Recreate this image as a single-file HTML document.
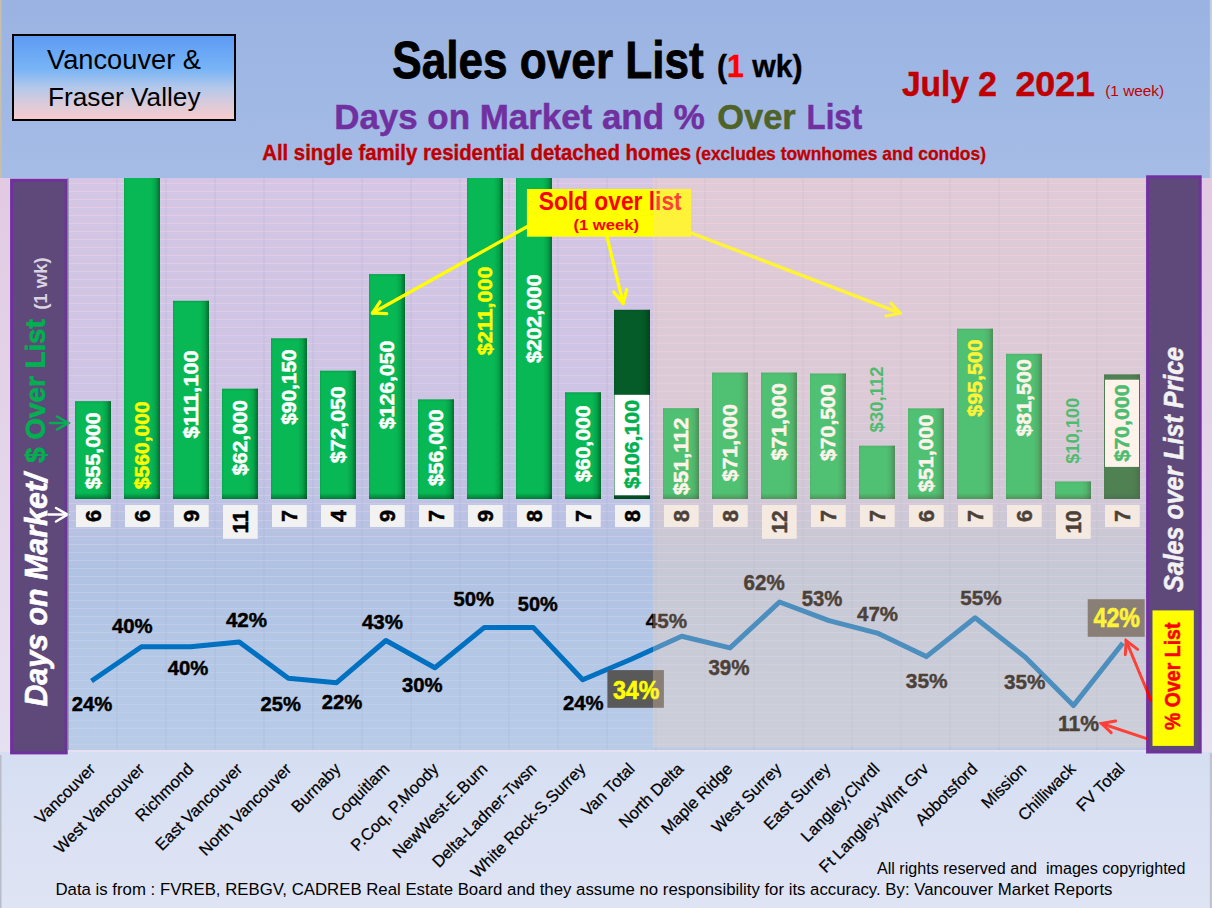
<!DOCTYPE html>
<html><head><meta charset="utf-8"><style>
html,body{margin:0;padding:0}
body{width:1212px;height:908px;position:relative;overflow:hidden;background:#d7e0f2;font-family:"Liberation Sans", sans-serif}
svg text{font-family:"Liberation Sans", sans-serif}
</style></head><body>
<svg width="1212" height="908" viewBox="0 0 1212 908" style="position:absolute;left:0;top:0">
<defs>
<linearGradient id="hdr" x1="0" y1="0" x2="0" y2="1">
 <stop offset="0" stop-color="#9ab3e2"/><stop offset="1" stop-color="#a5bce6"/>
</linearGradient>
<linearGradient id="plot" gradientUnits="userSpaceOnUse" x1="0" y1="178" x2="0" y2="750">
 <stop offset="0" stop-color="#d4c6e4"/><stop offset="0.39" stop-color="#cec4e4"/><stop offset="0.53" stop-color="#c2c2e4"/><stop offset="0.68" stop-color="#b0c2e2"/><stop offset="1" stop-color="#b8cce8"/>
</linearGradient>
<linearGradient id="side" x1="0" y1="0" x2="0" y2="1">
 <stop offset="0" stop-color="#e2cae2"/><stop offset="1" stop-color="#e6e0f0"/>
</linearGradient>
<linearGradient id="vfbox" x1="0" y1="0" x2="0" y2="1">
 <stop offset="0" stop-color="#5c9af4"/><stop offset="0.4" stop-color="#78b4f6"/><stop offset="0.62" stop-color="#b4c8ea"/><stop offset="0.82" stop-color="#dccbd9"/><stop offset="1" stop-color="#f8cccc"/>
</linearGradient>
<linearGradient id="barg" x1="0" y1="0" x2="1" y2="0">
 <stop offset="0" stop-color="#00b050"/><stop offset="0.7" stop-color="#00b050"/><stop offset="1" stop-color="#007a38"/>
</linearGradient>
<linearGradient id="barv" x1="0" y1="0" x2="0" y2="1">
 <stop offset="0" stop-color="#000" stop-opacity="0.12"/><stop offset="0.04" stop-color="#000" stop-opacity="0"/>
</linearGradient>
<pattern id="hlines" x="0" y="0" width="8" height="8" patternUnits="userSpaceOnUse">
 <rect x="0" y="4" width="8" height="1" fill="#f0b8d0" fill-opacity="0.35"/>
</pattern>
</defs>
<linearGradient id="bot" x1="0" y1="0" x2="0" y2="1"><stop offset="0" stop-color="#d5def2"/><stop offset="1" stop-color="#dfe4f4"/></linearGradient>
<rect x="0" y="740" width="1212" height="168" fill="url(#bot)"/>
<rect x="0" y="0" width="1212" height="178" fill="url(#hdr)"/>
<rect x="0" y="0" width="1.5" height="178" fill="#c8bfa8"/>
<rect x="1209.8" y="0" width="2.2" height="178" fill="#c4cce0"/>
<rect x="1209.8" y="753" width="2.2" height="155" fill="#c0c4d0"/>
<rect x="0" y="178" width="1212" height="574" fill="url(#side)"/>
<rect x="68" y="178" width="1078" height="572" fill="url(#plot)"/>


<rect x="68" y="183" width="1078" height="1" fill="rgb(238,204,230)" fill-opacity="0.72"/>
<rect x="68" y="191" width="1078" height="1" fill="rgb(237,204,230)" fill-opacity="0.71"/>
<rect x="68" y="199" width="1078" height="1" fill="rgb(237,204,230)" fill-opacity="0.71"/>
<rect x="68" y="207" width="1078" height="1" fill="rgb(236,205,231)" fill-opacity="0.70"/>
<rect x="68" y="215" width="1078" height="1" fill="rgb(236,205,231)" fill-opacity="0.69"/>
<rect x="68" y="223" width="1078" height="1" fill="rgb(235,205,231)" fill-opacity="0.69"/>
<rect x="68" y="231" width="1078" height="1" fill="rgb(234,205,231)" fill-opacity="0.68"/>
<rect x="68" y="239" width="1078" height="1" fill="rgb(234,205,231)" fill-opacity="0.68"/>
<rect x="68" y="247" width="1078" height="1" fill="rgb(233,205,231)" fill-opacity="0.67"/>
<rect x="68" y="255" width="1078" height="1" fill="rgb(233,206,231)" fill-opacity="0.67"/>
<rect x="68" y="263" width="1078" height="1" fill="rgb(232,206,231)" fill-opacity="0.66"/>
<rect x="68" y="271" width="1078" height="1" fill="rgb(232,206,232)" fill-opacity="0.65"/>
<rect x="68" y="279" width="1078" height="1" fill="rgb(231,206,232)" fill-opacity="0.65"/>
<rect x="68" y="287" width="1078" height="1" fill="rgb(231,206,232)" fill-opacity="0.64"/>
<rect x="68" y="295" width="1078" height="1" fill="rgb(230,206,232)" fill-opacity="0.64"/>
<rect x="68" y="303" width="1078" height="1" fill="rgb(230,207,232)" fill-opacity="0.63"/>
<rect x="68" y="311" width="1078" height="1" fill="rgb(229,207,232)" fill-opacity="0.63"/>
<rect x="68" y="319" width="1078" height="1" fill="rgb(229,207,232)" fill-opacity="0.62"/>
<rect x="68" y="327" width="1078" height="1" fill="rgb(228,207,233)" fill-opacity="0.62"/>
<rect x="68" y="335" width="1078" height="1" fill="rgb(228,207,233)" fill-opacity="0.61"/>
<rect x="68" y="343" width="1078" height="1" fill="rgb(227,207,233)" fill-opacity="0.60"/>
<rect x="68" y="351" width="1078" height="1" fill="rgb(226,208,233)" fill-opacity="0.60"/>
<rect x="68" y="359" width="1078" height="1" fill="rgb(226,208,233)" fill-opacity="0.59"/>
<rect x="68" y="367" width="1078" height="1" fill="rgb(225,208,233)" fill-opacity="0.59"/>
<rect x="68" y="375" width="1078" height="1" fill="rgb(225,208,233)" fill-opacity="0.58"/>
<rect x="68" y="383" width="1078" height="1" fill="rgb(224,208,234)" fill-opacity="0.58"/>
<rect x="68" y="391" width="1078" height="1" fill="rgb(224,208,234)" fill-opacity="0.57"/>
<rect x="68" y="399" width="1078" height="1" fill="rgb(223,209,234)" fill-opacity="0.56"/>
<rect x="68" y="407" width="1078" height="1" fill="rgb(223,209,234)" fill-opacity="0.56"/>
<rect x="68" y="415" width="1078" height="1" fill="rgb(222,209,234)" fill-opacity="0.55"/>
<rect x="68" y="423" width="1078" height="1" fill="rgb(222,209,234)" fill-opacity="0.55"/>
<rect x="68" y="431" width="1078" height="1" fill="rgb(221,209,234)" fill-opacity="0.54"/>
<rect x="68" y="439" width="1078" height="1" fill="rgb(221,209,235)" fill-opacity="0.54"/>
<rect x="68" y="447" width="1078" height="1" fill="rgb(220,210,235)" fill-opacity="0.53"/>
<rect x="68" y="455" width="1078" height="1" fill="rgb(220,210,235)" fill-opacity="0.53"/>
<rect x="68" y="463" width="1078" height="1" fill="rgb(219,210,235)" fill-opacity="0.52"/>
<rect x="68" y="471" width="1078" height="1" fill="rgb(218,210,235)" fill-opacity="0.51"/>
<rect x="68" y="479" width="1078" height="1" fill="rgb(218,210,235)" fill-opacity="0.51"/>
<rect x="68" y="487" width="1078" height="1" fill="rgb(217,211,235)" fill-opacity="0.50"/>
<rect x="68" y="495" width="1078" height="1" fill="rgb(217,211,236)" fill-opacity="0.50"/>
<rect x="68" y="503" width="1078" height="1" fill="rgb(216,211,236)" fill-opacity="0.49"/>
<rect x="68" y="511" width="1078" height="1" fill="rgb(216,211,236)" fill-opacity="0.49"/>
<rect x="68" y="520" width="1078" height="1" fill="rgb(215,211,236)" fill-opacity="0.48"/>
<rect x="68" y="528" width="1078" height="1" fill="rgb(215,211,236)" fill-opacity="0.48"/>
<rect x="68" y="536" width="1078" height="1" fill="rgb(214,212,236)" fill-opacity="0.47"/>
<rect x="68" y="544" width="1078" height="1" fill="rgb(214,212,236)" fill-opacity="0.46"/>
<rect x="68" y="552" width="1078" height="1" fill="rgb(213,212,237)" fill-opacity="0.46"/>
<rect x="68" y="560" width="1078" height="1" fill="rgb(213,212,237)" fill-opacity="0.45"/>
<rect x="68" y="568" width="1078" height="1" fill="rgb(212,212,237)" fill-opacity="0.45"/>
<rect x="68" y="576" width="1078" height="1" fill="rgb(212,212,237)" fill-opacity="0.44"/>
<rect x="68" y="584" width="1078" height="1" fill="rgb(211,213,237)" fill-opacity="0.44"/>
<rect x="68" y="592" width="1078" height="1" fill="rgb(210,213,237)" fill-opacity="0.43"/>
<rect x="68" y="600" width="1078" height="1" fill="rgb(210,213,237)" fill-opacity="0.42"/>
<rect x="68" y="608" width="1078" height="1" fill="rgb(209,213,238)" fill-opacity="0.42"/>
<rect x="68" y="616" width="1078" height="1" fill="rgb(209,213,238)" fill-opacity="0.41"/>
<rect x="68" y="624" width="1078" height="1" fill="rgb(208,213,238)" fill-opacity="0.41"/>
<rect x="68" y="632" width="1078" height="1" fill="rgb(208,214,238)" fill-opacity="0.40"/>
<rect x="68" y="640" width="1078" height="1" fill="rgb(207,214,238)" fill-opacity="0.40"/>
<rect x="68" y="648" width="1078" height="1" fill="rgb(207,214,238)" fill-opacity="0.39"/>
<rect x="68" y="656" width="1078" height="1" fill="rgb(206,214,238)" fill-opacity="0.39"/>
<rect x="68" y="664" width="1078" height="1" fill="rgb(206,214,239)" fill-opacity="0.38"/>
<rect x="68" y="672" width="1078" height="1" fill="rgb(205,214,239)" fill-opacity="0.37"/>
<rect x="68" y="680" width="1078" height="1" fill="rgb(205,215,239)" fill-opacity="0.37"/>
<rect x="68" y="688" width="1078" height="1" fill="rgb(204,215,239)" fill-opacity="0.36"/>
<rect x="68" y="696" width="1078" height="1" fill="rgb(204,215,239)" fill-opacity="0.36"/>
<rect x="68" y="704" width="1078" height="1" fill="rgb(203,215,239)" fill-opacity="0.35"/>
<rect x="68" y="712" width="1078" height="1" fill="rgb(202,215,239)" fill-opacity="0.35"/>
<rect x="68" y="720" width="1078" height="1" fill="rgb(202,215,239)" fill-opacity="0.34"/>
<rect x="68" y="728" width="1078" height="1" fill="rgb(201,216,240)" fill-opacity="0.34"/>
<rect x="68" y="736" width="1078" height="1" fill="rgb(201,216,240)" fill-opacity="0.33"/>
<rect x="68" y="744" width="1078" height="1" fill="rgb(200,216,240)" fill-opacity="0.32"/>
<rect x="67.5" y="178" width="1" height="572" fill="#a0a8d0" fill-opacity="0.3"/>
<rect x="116.5" y="178" width="1" height="572" fill="#a0a8d0" fill-opacity="0.3"/>
<rect x="165.5" y="178" width="1" height="572" fill="#a0a8d0" fill-opacity="0.3"/>
<rect x="214.5" y="178" width="1" height="572" fill="#a0a8d0" fill-opacity="0.3"/>
<rect x="263.5" y="178" width="1" height="572" fill="#a0a8d0" fill-opacity="0.3"/>
<rect x="312.5" y="178" width="1" height="572" fill="#a0a8d0" fill-opacity="0.3"/>
<rect x="361.5" y="178" width="1" height="572" fill="#a0a8d0" fill-opacity="0.3"/>
<rect x="410.5" y="178" width="1" height="572" fill="#a0a8d0" fill-opacity="0.3"/>
<rect x="459.5" y="178" width="1" height="572" fill="#a0a8d0" fill-opacity="0.3"/>
<rect x="508.5" y="178" width="1" height="572" fill="#a0a8d0" fill-opacity="0.3"/>
<rect x="557.5" y="178" width="1" height="572" fill="#a0a8d0" fill-opacity="0.3"/>
<rect x="606.5" y="178" width="1" height="572" fill="#a0a8d0" fill-opacity="0.3"/>
<rect x="655.5" y="178" width="1" height="572" fill="#a0a8d0" fill-opacity="0.3"/>
<rect x="704.5" y="178" width="1" height="572" fill="#a0a8d0" fill-opacity="0.3"/>
<rect x="753.5" y="178" width="1" height="572" fill="#a0a8d0" fill-opacity="0.3"/>
<rect x="802.5" y="178" width="1" height="572" fill="#a0a8d0" fill-opacity="0.3"/>
<rect x="851.5" y="178" width="1" height="572" fill="#a0a8d0" fill-opacity="0.3"/>
<rect x="900.5" y="178" width="1" height="572" fill="#a0a8d0" fill-opacity="0.3"/>
<rect x="949.5" y="178" width="1" height="572" fill="#a0a8d0" fill-opacity="0.3"/>
<rect x="998.5" y="178" width="1" height="572" fill="#a0a8d0" fill-opacity="0.3"/>
<rect x="1047.5" y="178" width="1" height="572" fill="#a0a8d0" fill-opacity="0.3"/>
<rect x="1096.5" y="178" width="1" height="572" fill="#a0a8d0" fill-opacity="0.3"/>
<rect x="1145.5" y="178" width="1" height="572" fill="#a0a8d0" fill-opacity="0.3"/>
<rect x="0" y="755" width="1.5" height="153" fill="#b8bcc8"/>
<rect x="13" y="35" width="222" height="85" fill="url(#vfbox)" stroke="#000" stroke-width="2"/>
<text x="47.0" y="68.9" font-size="27.62" fill="#000" font-weight="normal" text-anchor="start" textLength="154.0" lengthAdjust="spacingAndGlyphs"  style="">Vancouver &amp;</text>
<text x="48.0" y="105.6" font-size="26.16" fill="#000" font-weight="normal" text-anchor="start" textLength="152.5" lengthAdjust="spacingAndGlyphs"  style="">Fraser Valley</text>
<text x="392.3" y="77.5" font-size="51.16" fill="#000" font-weight="bold" text-anchor="start" textLength="311.5" lengthAdjust="spacingAndGlyphs" stroke="#000" stroke-width="0.8" style="">Sales over List</text>
<text x="717" y="77.2" font-size="31" font-weight="bold" textLength="85.5" lengthAdjust="spacingAndGlyphs" fill="#000" stroke="#000" stroke-width="0.4">(<tspan fill="#ff0000" stroke="#ff0000">1</tspan> wk)</text>
<text x="334.2" y="128.6" font-size="35.90" fill="#7030a0" font-weight="bold" text-anchor="start" textLength="370.5" lengthAdjust="spacingAndGlyphs" stroke="#7030a0" stroke-width="0.5" style="">Days on Market and %</text>
<text x="717.2" y="128.6" font-size="35.90" fill="#4f6228" font-weight="bold" text-anchor="start" textLength="78.5" lengthAdjust="spacingAndGlyphs" stroke="#4f6228" stroke-width="0.5" style="">Over</text>
<text x="806.6" y="128.6" font-size="35.90" fill="#7030a0" font-weight="bold" text-anchor="start" textLength="55.5" lengthAdjust="spacingAndGlyphs" stroke="#7030a0" stroke-width="0.5" style="">List</text>
<text x="262.2" y="160.0" font-size="22.53" fill="#c00000" font-weight="bold" text-anchor="start" textLength="429.0" lengthAdjust="spacingAndGlyphs" stroke="#c00000" stroke-width="0.4" style="">All single family residential detached homes</text>
<text x="695.4" y="159.6" font-size="18.50" fill="#c00000" font-weight="bold" text-anchor="start" textLength="290.6" lengthAdjust="spacingAndGlyphs" stroke="#c00000" stroke-width="0.3" style="">(excludes townhomes and condos)</text>
<text x="901.9" y="96.3" font-size="34.30" fill="#c00000" font-weight="bold" text-anchor="start" textLength="95.0" lengthAdjust="spacingAndGlyphs" stroke="#c00000" stroke-width="0.5" style="">July 2</text>
<text x="1015.5" y="96.3" font-size="34.30" fill="#c00000" font-weight="bold" text-anchor="start" textLength="79.5" lengthAdjust="spacingAndGlyphs" stroke="#c00000" stroke-width="0.5" style="">2021</text>
<text x="1105.2" y="96.0" font-size="15.00" fill="#c00000" font-weight="normal" text-anchor="start" textLength="59.0" lengthAdjust="spacingAndGlyphs"  style="">(1 week)</text>
<rect x="11.6" y="180.2" width="54.6" height="572.7" fill="#5f497a" stroke="#7030a0" stroke-width="3"/>
<rect x="1147.6" y="176.8" width="52.6" height="575.2" fill="#5f497a" stroke="#7030a0" stroke-width="3"/>
<linearGradient id="shR" x1="0" y1="0" x2="1" y2="0"><stop offset="0" stop-color="#003010" stop-opacity="0"/><stop offset="0.5" stop-color="#003010" stop-opacity="0.15"/><stop offset="1" stop-color="#003010" stop-opacity="0.55"/></linearGradient>
<linearGradient id="shB" x1="0" y1="0" x2="0" y2="1"><stop offset="0" stop-color="#003010" stop-opacity="0"/><stop offset="1" stop-color="#003010" stop-opacity="0.45"/></linearGradient>
<linearGradient id="shT" x1="0" y1="0" x2="0" y2="1"><stop offset="0" stop-color="#003010" stop-opacity="0.15"/><stop offset="1" stop-color="#003010" stop-opacity="0"/></linearGradient>
<rect x="75.0" y="401.2" width="36.0" height="97.8" fill="#07b854"/>
<rect x="102.0" y="401.2" width="9" height="97.8" fill="url(#shR)"/>
<rect x="75.0" y="493.0" width="36.0" height="6" fill="url(#shB)"/>
<rect x="75.0" y="401.2" width="36.0" height="2.5" fill="url(#shT)"/>
<rect x="75.0" y="401.2" width="1.2" height="97.8" fill="#003010" fill-opacity="0.08"/>
<rect x="124.0" y="178.0" width="36.0" height="321.0" fill="#07b854"/>
<rect x="151.0" y="178.0" width="9" height="321.0" fill="url(#shR)"/>
<rect x="124.0" y="493.0" width="36.0" height="6" fill="url(#shB)"/>
<rect x="124.0" y="178.0" width="1.2" height="321.0" fill="#003010" fill-opacity="0.08"/>
<rect x="173.0" y="300.8" width="36.0" height="198.2" fill="#07b854"/>
<rect x="200.0" y="300.8" width="9" height="198.2" fill="url(#shR)"/>
<rect x="173.0" y="493.0" width="36.0" height="6" fill="url(#shB)"/>
<rect x="173.0" y="300.8" width="36.0" height="2.5" fill="url(#shT)"/>
<rect x="173.0" y="300.8" width="1.2" height="198.2" fill="#003010" fill-opacity="0.08"/>
<rect x="222.0" y="388.7" width="36.0" height="110.3" fill="#07b854"/>
<rect x="249.0" y="388.7" width="9" height="110.3" fill="url(#shR)"/>
<rect x="222.0" y="493.0" width="36.0" height="6" fill="url(#shB)"/>
<rect x="222.0" y="388.7" width="36.0" height="2.5" fill="url(#shT)"/>
<rect x="222.0" y="388.7" width="1.2" height="110.3" fill="#003010" fill-opacity="0.08"/>
<rect x="271.0" y="338.3" width="36.0" height="160.7" fill="#07b854"/>
<rect x="298.0" y="338.3" width="9" height="160.7" fill="url(#shR)"/>
<rect x="271.0" y="493.0" width="36.0" height="6" fill="url(#shB)"/>
<rect x="271.0" y="338.3" width="36.0" height="2.5" fill="url(#shT)"/>
<rect x="271.0" y="338.3" width="1.2" height="160.7" fill="#003010" fill-opacity="0.08"/>
<rect x="320.0" y="370.7" width="36.0" height="128.3" fill="#07b854"/>
<rect x="347.0" y="370.7" width="9" height="128.3" fill="url(#shR)"/>
<rect x="320.0" y="493.0" width="36.0" height="6" fill="url(#shB)"/>
<rect x="320.0" y="370.7" width="36.0" height="2.5" fill="url(#shT)"/>
<rect x="320.0" y="370.7" width="1.2" height="128.3" fill="#003010" fill-opacity="0.08"/>
<rect x="369.0" y="274.1" width="36.0" height="224.9" fill="#07b854"/>
<rect x="396.0" y="274.1" width="9" height="224.9" fill="url(#shR)"/>
<rect x="369.0" y="493.0" width="36.0" height="6" fill="url(#shB)"/>
<rect x="369.0" y="274.1" width="36.0" height="2.5" fill="url(#shT)"/>
<rect x="369.0" y="274.1" width="1.2" height="224.9" fill="#003010" fill-opacity="0.08"/>
<rect x="418.0" y="399.4" width="36.0" height="99.6" fill="#07b854"/>
<rect x="445.0" y="399.4" width="9" height="99.6" fill="url(#shR)"/>
<rect x="418.0" y="493.0" width="36.0" height="6" fill="url(#shB)"/>
<rect x="418.0" y="399.4" width="36.0" height="2.5" fill="url(#shT)"/>
<rect x="418.0" y="399.4" width="1.2" height="99.6" fill="#003010" fill-opacity="0.08"/>
<rect x="467.0" y="178.0" width="36.0" height="321.0" fill="#07b854"/>
<rect x="494.0" y="178.0" width="9" height="321.0" fill="url(#shR)"/>
<rect x="467.0" y="493.0" width="36.0" height="6" fill="url(#shB)"/>
<rect x="467.0" y="178.0" width="1.2" height="321.0" fill="#003010" fill-opacity="0.08"/>
<rect x="516.0" y="178.0" width="36.0" height="321.0" fill="#07b854"/>
<rect x="543.0" y="178.0" width="9" height="321.0" fill="url(#shR)"/>
<rect x="516.0" y="493.0" width="36.0" height="6" fill="url(#shB)"/>
<rect x="516.0" y="178.0" width="1.2" height="321.0" fill="#003010" fill-opacity="0.08"/>
<rect x="565.0" y="392.3" width="36.0" height="106.7" fill="#07b854"/>
<rect x="592.0" y="392.3" width="9" height="106.7" fill="url(#shR)"/>
<rect x="565.0" y="493.0" width="36.0" height="6" fill="url(#shB)"/>
<rect x="565.0" y="392.3" width="36.0" height="2.5" fill="url(#shT)"/>
<rect x="565.0" y="392.3" width="1.2" height="106.7" fill="#003010" fill-opacity="0.08"/>
<rect x="614.0" y="309.8" width="36.0" height="189.2" fill="#055c28"/>
<rect x="641.0" y="309.8" width="9" height="189.2" fill="url(#shR)"/>
<rect x="614.0" y="493.0" width="36.0" height="6" fill="url(#shB)"/>
<rect x="614.0" y="309.8" width="36.0" height="2.5" fill="url(#shT)"/>
<rect x="614.0" y="309.8" width="1.2" height="189.2" fill="#003010" fill-opacity="0.08"/>
<rect x="663.0" y="408.2" width="36.0" height="90.8" fill="#07b854"/>
<rect x="690.0" y="408.2" width="9" height="90.8" fill="url(#shR)"/>
<rect x="663.0" y="493.0" width="36.0" height="6" fill="url(#shB)"/>
<rect x="663.0" y="408.2" width="36.0" height="2.5" fill="url(#shT)"/>
<rect x="663.0" y="408.2" width="1.2" height="90.8" fill="#003010" fill-opacity="0.08"/>
<rect x="712.0" y="372.6" width="36.0" height="126.4" fill="#07b854"/>
<rect x="739.0" y="372.6" width="9" height="126.4" fill="url(#shR)"/>
<rect x="712.0" y="493.0" width="36.0" height="6" fill="url(#shB)"/>
<rect x="712.0" y="372.6" width="36.0" height="2.5" fill="url(#shT)"/>
<rect x="712.0" y="372.6" width="1.2" height="126.4" fill="#003010" fill-opacity="0.08"/>
<rect x="761.0" y="372.6" width="36.0" height="126.4" fill="#07b854"/>
<rect x="788.0" y="372.6" width="9" height="126.4" fill="url(#shR)"/>
<rect x="761.0" y="493.0" width="36.0" height="6" fill="url(#shB)"/>
<rect x="761.0" y="372.6" width="36.0" height="2.5" fill="url(#shT)"/>
<rect x="761.0" y="372.6" width="1.2" height="126.4" fill="#003010" fill-opacity="0.08"/>
<rect x="810.0" y="373.5" width="36.0" height="125.5" fill="#07b854"/>
<rect x="837.0" y="373.5" width="9" height="125.5" fill="url(#shR)"/>
<rect x="810.0" y="493.0" width="36.0" height="6" fill="url(#shB)"/>
<rect x="810.0" y="373.5" width="36.0" height="2.5" fill="url(#shT)"/>
<rect x="810.0" y="373.5" width="1.2" height="125.5" fill="#003010" fill-opacity="0.08"/>
<rect x="859.0" y="445.7" width="36.0" height="53.3" fill="#07b854"/>
<rect x="886.0" y="445.7" width="9" height="53.3" fill="url(#shR)"/>
<rect x="859.0" y="493.0" width="36.0" height="6" fill="url(#shB)"/>
<rect x="859.0" y="445.7" width="36.0" height="2.5" fill="url(#shT)"/>
<rect x="859.0" y="445.7" width="1.2" height="53.3" fill="#003010" fill-opacity="0.08"/>
<rect x="908.0" y="408.4" width="36.0" height="90.6" fill="#07b854"/>
<rect x="935.0" y="408.4" width="9" height="90.6" fill="url(#shR)"/>
<rect x="908.0" y="493.0" width="36.0" height="6" fill="url(#shB)"/>
<rect x="908.0" y="408.4" width="36.0" height="2.5" fill="url(#shT)"/>
<rect x="908.0" y="408.4" width="1.2" height="90.6" fill="#003010" fill-opacity="0.08"/>
<rect x="957.0" y="328.7" width="36.0" height="170.3" fill="#07b854"/>
<rect x="984.0" y="328.7" width="9" height="170.3" fill="url(#shR)"/>
<rect x="957.0" y="493.0" width="36.0" height="6" fill="url(#shB)"/>
<rect x="957.0" y="328.7" width="36.0" height="2.5" fill="url(#shT)"/>
<rect x="957.0" y="328.7" width="1.2" height="170.3" fill="#003010" fill-opacity="0.08"/>
<rect x="1006.0" y="353.8" width="36.0" height="145.2" fill="#07b854"/>
<rect x="1033.0" y="353.8" width="9" height="145.2" fill="url(#shR)"/>
<rect x="1006.0" y="493.0" width="36.0" height="6" fill="url(#shB)"/>
<rect x="1006.0" y="353.8" width="36.0" height="2.5" fill="url(#shT)"/>
<rect x="1006.0" y="353.8" width="1.2" height="145.2" fill="#003010" fill-opacity="0.08"/>
<rect x="1055.0" y="481.5" width="36.0" height="17.5" fill="#07b854"/>
<rect x="1082.0" y="481.5" width="9" height="17.5" fill="url(#shR)"/>
<rect x="1055.0" y="493.0" width="36.0" height="6" fill="url(#shB)"/>
<rect x="1055.0" y="481.5" width="36.0" height="2.5" fill="url(#shT)"/>
<rect x="1055.0" y="481.5" width="1.2" height="17.5" fill="#003010" fill-opacity="0.08"/>
<rect x="1104.0" y="374.4" width="36.0" height="124.6" fill="#055c28"/>
<rect x="1131.0" y="374.4" width="9" height="124.6" fill="url(#shR)"/>
<rect x="1104.0" y="493.0" width="36.0" height="6" fill="url(#shB)"/>
<rect x="1104.0" y="374.4" width="36.0" height="2.5" fill="url(#shT)"/>
<rect x="1104.0" y="374.4" width="1.2" height="124.6" fill="#003010" fill-opacity="0.08"/>
<text transform="translate(100.2,489.2) rotate(-90)" x="0" y="0" font-size="21" font-weight="bold" fill="#ffffff" stroke="#ffffff" stroke-width="0.5" textLength="76.8" lengthAdjust="spacingAndGlyphs">$55,000</text>
<text transform="translate(149.2,489.2) rotate(-90)" x="0" y="0" font-size="21" font-weight="bold" fill="#ffff00" stroke="#ffff00" stroke-width="0.5" textLength="87.9" lengthAdjust="spacingAndGlyphs">$560,000</text>
<text transform="translate(198.2,438.4) rotate(-90)" x="0" y="0" font-size="21" font-weight="bold" fill="#ffffff" stroke="#ffffff" stroke-width="0.5" textLength="87.9" lengthAdjust="spacingAndGlyphs">$111,100</text>
<text transform="translate(247.2,475.5) rotate(-90)" x="0" y="0" font-size="21" font-weight="bold" fill="#ffffff" stroke="#ffffff" stroke-width="0.5" textLength="75.5" lengthAdjust="spacingAndGlyphs">$62,000</text>
<text transform="translate(296.2,424.8) rotate(-90)" x="0" y="0" font-size="21" font-weight="bold" fill="#ffffff" stroke="#ffffff" stroke-width="0.5" textLength="75.5" lengthAdjust="spacingAndGlyphs">$90,150</text>
<text transform="translate(345.2,463.2) rotate(-90)" x="0" y="0" font-size="21" font-weight="bold" fill="#ffffff" stroke="#ffffff" stroke-width="0.5" textLength="76.8" lengthAdjust="spacingAndGlyphs">$72,050</text>
<text transform="translate(394.2,429.2) rotate(-90)" x="0" y="0" font-size="21" font-weight="bold" fill="#ffffff" stroke="#ffffff" stroke-width="0.5" textLength="88.6" lengthAdjust="spacingAndGlyphs">$126,050</text>
<text transform="translate(443.2,486.0) rotate(-90)" x="0" y="0" font-size="21" font-weight="bold" fill="#ffffff" stroke="#ffffff" stroke-width="0.5" textLength="76.6" lengthAdjust="spacingAndGlyphs">$56,000</text>
<text transform="translate(492.2,355.2) rotate(-90)" x="0" y="0" font-size="21" font-weight="bold" fill="#ffff00" stroke="#ffff00" stroke-width="0.5" textLength="88.6" lengthAdjust="spacingAndGlyphs">$211,000</text>
<text transform="translate(541.2,363.1) rotate(-90)" x="0" y="0" font-size="21" font-weight="bold" fill="#ffffff" stroke="#ffffff" stroke-width="0.5" textLength="88.6" lengthAdjust="spacingAndGlyphs">$202,000</text>
<text transform="translate(590.2,482.0) rotate(-90)" x="0" y="0" font-size="21" font-weight="bold" fill="#ffffff" stroke="#ffffff" stroke-width="0.5" textLength="76.6" lengthAdjust="spacingAndGlyphs">$60,000</text>
<rect x="614.5" y="394.8" width="35" height="100.5" fill="#ffffff"/>
<text transform="translate(639.2,488.7) rotate(-90)" x="0" y="0" font-size="21" font-weight="bold" fill="#00b050" stroke="#00b050" stroke-width="0.5" textLength="88.7" lengthAdjust="spacingAndGlyphs">$106,100</text>
<text transform="translate(688.2,495.1) rotate(-90)" x="0" y="0" font-size="21" font-weight="bold" fill="#ffffff" stroke="#ffffff" stroke-width="0.5" textLength="77.4" lengthAdjust="spacingAndGlyphs">$51,112</text>
<text transform="translate(737.2,481.5) rotate(-90)" x="0" y="0" font-size="21" font-weight="bold" fill="#ffffff" stroke="#ffffff" stroke-width="0.5" textLength="77.4" lengthAdjust="spacingAndGlyphs">$71,000</text>
<text transform="translate(786.2,460.6) rotate(-90)" x="0" y="0" font-size="21" font-weight="bold" fill="#ffffff" stroke="#ffffff" stroke-width="0.5" textLength="77.4" lengthAdjust="spacingAndGlyphs">$71,000</text>
<text transform="translate(835.2,461.0) rotate(-90)" x="0" y="0" font-size="21" font-weight="bold" fill="#ffffff" stroke="#ffffff" stroke-width="0.5" textLength="76.7" lengthAdjust="spacingAndGlyphs">$70,500</text>
<text transform="translate(883.2,432.4) rotate(-90)" x="0" y="0" font-size="18" font-weight="bold" fill="#00b050" stroke="#00b050" stroke-width="0" textLength="65.9" lengthAdjust="spacingAndGlyphs">$30,112</text>
<text transform="translate(933.2,492.0) rotate(-90)" x="0" y="0" font-size="21" font-weight="bold" fill="#ffffff" stroke="#ffffff" stroke-width="0.5" textLength="77.4" lengthAdjust="spacingAndGlyphs">$51,000</text>
<text transform="translate(982.2,416.7) rotate(-90)" x="0" y="0" font-size="21" font-weight="bold" fill="#ffff00" stroke="#ffff00" stroke-width="0.5" textLength="77.4" lengthAdjust="spacingAndGlyphs">$95,500</text>
<text transform="translate(1031.2,436.6) rotate(-90)" x="0" y="0" font-size="21" font-weight="bold" fill="#ffffff" stroke="#ffffff" stroke-width="0.5" textLength="77.4" lengthAdjust="spacingAndGlyphs">$81,500</text>
<text transform="translate(1079.2,463.8) rotate(-90)" x="0" y="0" font-size="18" font-weight="bold" fill="#00b050" stroke="#00b050" stroke-width="0" textLength="65.9" lengthAdjust="spacingAndGlyphs">$10,100</text>
<rect x="1105" y="379.7" width="34" height="87.2" fill="#ffffff"/>
<text transform="translate(1129.2,461.7) rotate(-90)" x="0" y="0" font-size="21" font-weight="bold" fill="#00b050" stroke="#00b050" stroke-width="0.5" textLength="77.4" lengthAdjust="spacingAndGlyphs">$70,000</text>
<rect x="76.0" y="504.9" width="34.7" height="22.2" fill="#f2f2f2"/>
<text transform="translate(101.1,522.0) rotate(-90)" font-size="22.5" font-weight="bold" fill="#000" stroke="#000" stroke-width="0.5" textLength="12" lengthAdjust="spacingAndGlyphs">6</text>
<rect x="125.0" y="504.9" width="34.7" height="22.2" fill="#f2f2f2"/>
<text transform="translate(150.1,522.0) rotate(-90)" font-size="22.5" font-weight="bold" fill="#000" stroke="#000" stroke-width="0.5" textLength="12" lengthAdjust="spacingAndGlyphs">6</text>
<rect x="174.0" y="504.9" width="34.7" height="22.2" fill="#f2f2f2"/>
<text transform="translate(199.1,522.0) rotate(-90)" font-size="22.5" font-weight="bold" fill="#000" stroke="#000" stroke-width="0.5" textLength="12" lengthAdjust="spacingAndGlyphs">9</text>
<rect x="223.0" y="504.9" width="34.7" height="33.9" fill="#f2f2f2"/>
<text transform="translate(248.1,533.4) rotate(-90)" font-size="22.5" font-weight="bold" fill="#000" stroke="#000" stroke-width="0.5" textLength="23" lengthAdjust="spacingAndGlyphs">11</text>
<rect x="272.0" y="504.9" width="34.7" height="22.2" fill="#f2f2f2"/>
<text transform="translate(297.1,522.0) rotate(-90)" font-size="22.5" font-weight="bold" fill="#000" stroke="#000" stroke-width="0.5" textLength="12" lengthAdjust="spacingAndGlyphs">7</text>
<rect x="321.0" y="504.9" width="34.7" height="22.2" fill="#f2f2f2"/>
<text transform="translate(346.1,522.0) rotate(-90)" font-size="22.5" font-weight="bold" fill="#000" stroke="#000" stroke-width="0.5" textLength="12" lengthAdjust="spacingAndGlyphs">4</text>
<rect x="370.0" y="504.9" width="34.7" height="22.2" fill="#f2f2f2"/>
<text transform="translate(395.1,522.0) rotate(-90)" font-size="22.5" font-weight="bold" fill="#000" stroke="#000" stroke-width="0.5" textLength="12" lengthAdjust="spacingAndGlyphs">9</text>
<rect x="419.0" y="504.9" width="34.7" height="22.2" fill="#f2f2f2"/>
<text transform="translate(444.1,522.0) rotate(-90)" font-size="22.5" font-weight="bold" fill="#000" stroke="#000" stroke-width="0.5" textLength="12" lengthAdjust="spacingAndGlyphs">7</text>
<rect x="468.0" y="504.9" width="34.7" height="22.2" fill="#f2f2f2"/>
<text transform="translate(493.1,522.0) rotate(-90)" font-size="22.5" font-weight="bold" fill="#000" stroke="#000" stroke-width="0.5" textLength="12" lengthAdjust="spacingAndGlyphs">9</text>
<rect x="517.0" y="504.9" width="34.7" height="22.2" fill="#f2f2f2"/>
<text transform="translate(542.1,522.0) rotate(-90)" font-size="22.5" font-weight="bold" fill="#000" stroke="#000" stroke-width="0.5" textLength="12" lengthAdjust="spacingAndGlyphs">8</text>
<rect x="566.0" y="504.9" width="34.7" height="22.2" fill="#f2f2f2"/>
<text transform="translate(591.1,522.0) rotate(-90)" font-size="22.5" font-weight="bold" fill="#000" stroke="#000" stroke-width="0.5" textLength="12" lengthAdjust="spacingAndGlyphs">7</text>
<rect x="615.0" y="504.9" width="34.7" height="22.2" fill="#f2f2f2"/>
<text transform="translate(640.1,522.0) rotate(-90)" font-size="22.5" font-weight="bold" fill="#000" stroke="#000" stroke-width="0.5" textLength="12" lengthAdjust="spacingAndGlyphs">8</text>
<rect x="664.0" y="504.9" width="34.7" height="22.2" fill="#f2f2f2"/>
<text transform="translate(689.1,522.0) rotate(-90)" font-size="22.5" font-weight="bold" fill="#000" stroke="#000" stroke-width="0.5" textLength="12" lengthAdjust="spacingAndGlyphs">8</text>
<rect x="713.0" y="504.9" width="34.7" height="22.2" fill="#f2f2f2"/>
<text transform="translate(738.1,522.0) rotate(-90)" font-size="22.5" font-weight="bold" fill="#000" stroke="#000" stroke-width="0.5" textLength="12" lengthAdjust="spacingAndGlyphs">8</text>
<rect x="762.0" y="504.9" width="34.7" height="33.9" fill="#f2f2f2"/>
<text transform="translate(787.1,533.4) rotate(-90)" font-size="22.5" font-weight="bold" fill="#000" stroke="#000" stroke-width="0.5" textLength="23" lengthAdjust="spacingAndGlyphs">12</text>
<rect x="811.0" y="504.9" width="34.7" height="22.2" fill="#f2f2f2"/>
<text transform="translate(836.1,522.0) rotate(-90)" font-size="22.5" font-weight="bold" fill="#000" stroke="#000" stroke-width="0.5" textLength="12" lengthAdjust="spacingAndGlyphs">7</text>
<rect x="860.0" y="504.9" width="34.7" height="22.2" fill="#f2f2f2"/>
<text transform="translate(885.1,522.0) rotate(-90)" font-size="22.5" font-weight="bold" fill="#000" stroke="#000" stroke-width="0.5" textLength="12" lengthAdjust="spacingAndGlyphs">7</text>
<rect x="909.0" y="504.9" width="34.7" height="22.2" fill="#f2f2f2"/>
<text transform="translate(934.1,522.0) rotate(-90)" font-size="22.5" font-weight="bold" fill="#000" stroke="#000" stroke-width="0.5" textLength="12" lengthAdjust="spacingAndGlyphs">6</text>
<rect x="958.0" y="504.9" width="34.7" height="22.2" fill="#f2f2f2"/>
<text transform="translate(983.1,522.0) rotate(-90)" font-size="22.5" font-weight="bold" fill="#000" stroke="#000" stroke-width="0.5" textLength="12" lengthAdjust="spacingAndGlyphs">7</text>
<rect x="1007.0" y="504.9" width="34.7" height="22.2" fill="#f2f2f2"/>
<text transform="translate(1032.1,522.0) rotate(-90)" font-size="22.5" font-weight="bold" fill="#000" stroke="#000" stroke-width="0.5" textLength="12" lengthAdjust="spacingAndGlyphs">6</text>
<rect x="1056.0" y="504.9" width="34.7" height="33.9" fill="#f2f2f2"/>
<text transform="translate(1081.1,533.4) rotate(-90)" font-size="22.5" font-weight="bold" fill="#000" stroke="#000" stroke-width="0.5" textLength="23" lengthAdjust="spacingAndGlyphs">10</text>
<rect x="1105.0" y="504.9" width="34.7" height="22.2" fill="#f2f2f2"/>
<text transform="translate(1130.1,522.0) rotate(-90)" font-size="22.5" font-weight="bold" fill="#000" stroke="#000" stroke-width="0.5" textLength="12" lengthAdjust="spacingAndGlyphs">7</text>
<path d="M91.5,681.0 L141.5,646.8 L190.5,646.8 L239.3,641.9 L288.3,678.3 L336.6,682.7 L385.9,640.5 L434.9,667.8 L484.4,627.4 L533.2,627.4 L582.7,679.7 L631.7,659.0 L681.7,636.2 L730.0,647.9 L779.5,602.0 L829.0,620.6 L877.3,633.1 L926.3,656.6 L975.1,617.8 L1024.6,656.6 L1073.4,705.6 L1122.9,643.0" fill="none" stroke="#0070c0" stroke-width="5" stroke-linejoin="round"/>
<text x="71.7" y="711.2" font-size="19.77" fill="#000" font-weight="bold" text-anchor="start" textLength="40.6" lengthAdjust="spacingAndGlyphs" stroke="#000" stroke-width="0.45" style="">24%</text>
<text x="112.0" y="633.2" font-size="19.77" fill="#000" font-weight="bold" text-anchor="start" textLength="40.7" lengthAdjust="spacingAndGlyphs" stroke="#000" stroke-width="0.45" style="">40%</text>
<text x="167.8" y="675.3" font-size="19.77" fill="#000" font-weight="bold" text-anchor="start" textLength="40.6" lengthAdjust="spacingAndGlyphs" stroke="#000" stroke-width="0.45" style="">40%</text>
<text x="225.9" y="627.0" font-size="19.77" fill="#000" font-weight="bold" text-anchor="start" textLength="41.1" lengthAdjust="spacingAndGlyphs" stroke="#000" stroke-width="0.45" style="">42%</text>
<text x="260.6" y="711.2" font-size="19.77" fill="#000" font-weight="bold" text-anchor="start" textLength="40.3" lengthAdjust="spacingAndGlyphs" stroke="#000" stroke-width="0.45" style="">25%</text>
<text x="321.7" y="708.7" font-size="20.79" fill="#000" font-weight="bold" text-anchor="start" textLength="40.6" lengthAdjust="spacingAndGlyphs" stroke="#000" stroke-width="0.45" style="">22%</text>
<text x="361.9" y="628.9" font-size="19.77" fill="#000" font-weight="bold" text-anchor="start" textLength="41.1" lengthAdjust="spacingAndGlyphs" stroke="#000" stroke-width="0.45" style="">43%</text>
<text x="402.0" y="692.0" font-size="20.06" fill="#000" font-weight="bold" text-anchor="start" textLength="40.6" lengthAdjust="spacingAndGlyphs" stroke="#000" stroke-width="0.45" style="">30%</text>
<text x="453.5" y="606.4" font-size="20.49" fill="#000" font-weight="bold" text-anchor="start" textLength="40.5" lengthAdjust="spacingAndGlyphs" stroke="#000" stroke-width="0.45" style="">50%</text>
<text x="517.8" y="610.8" font-size="20.49" fill="#000" font-weight="bold" text-anchor="start" textLength="39.9" lengthAdjust="spacingAndGlyphs" stroke="#000" stroke-width="0.45" style="">50%</text>
<text x="562.9" y="709.9" font-size="19.91" fill="#000" font-weight="bold" text-anchor="start" textLength="40.6" lengthAdjust="spacingAndGlyphs" stroke="#000" stroke-width="0.45" style="">24%</text>
<text x="645.8" y="628.0" font-size="20.35" fill="#000" font-weight="bold" text-anchor="start" textLength="41.3" lengthAdjust="spacingAndGlyphs" stroke="#000" stroke-width="0.45" style="">45%</text>
<text x="708.4" y="675.1" font-size="21.66" fill="#000" font-weight="bold" text-anchor="start" textLength="41.1" lengthAdjust="spacingAndGlyphs" stroke="#000" stroke-width="0.45" style="">39%</text>
<text x="743.6" y="589.7" font-size="21.51" fill="#000" font-weight="bold" text-anchor="start" textLength="41.1" lengthAdjust="spacingAndGlyphs" stroke="#000" stroke-width="0.45" style="">62%</text>
<text x="801.7" y="606.3" font-size="21.22" fill="#000" font-weight="bold" text-anchor="start" textLength="40.6" lengthAdjust="spacingAndGlyphs" stroke="#000" stroke-width="0.45" style="">53%</text>
<text x="857.0" y="620.9" font-size="20.93" fill="#000" font-weight="bold" text-anchor="start" textLength="41.0" lengthAdjust="spacingAndGlyphs" stroke="#000" stroke-width="0.45" style="">47%</text>
<text x="905.8" y="687.6" font-size="20.49" fill="#000" font-weight="bold" text-anchor="start" textLength="41.8" lengthAdjust="spacingAndGlyphs" stroke="#000" stroke-width="0.45" style="">35%</text>
<text x="960.2" y="605.1" font-size="20.49" fill="#000" font-weight="bold" text-anchor="start" textLength="41.4" lengthAdjust="spacingAndGlyphs" stroke="#000" stroke-width="0.45" style="">55%</text>
<text x="1004.0" y="689.3" font-size="20.49" fill="#000" font-weight="bold" text-anchor="start" textLength="41.4" lengthAdjust="spacingAndGlyphs" stroke="#000" stroke-width="0.45" style="">35%</text>
<text x="1058.0" y="730.9" font-size="21.66" fill="#000" font-weight="bold" text-anchor="start" textLength="41.1" lengthAdjust="spacingAndGlyphs" stroke="#000" stroke-width="0.45" style="">11%</text>
<rect x="607.4" y="670.1" width="56.5" height="37.7" fill="#595959"/>
<text x="612.9" y="699.1" font-size="25.87" fill="#ffff00" font-weight="bold" text-anchor="start" textLength="46.5" lengthAdjust="spacingAndGlyphs" stroke="#ffff00" stroke-width="0.6" style="">34%</text>
<g stroke="#ffff00" stroke-width="3.3" fill="none" stroke-linecap="round" stroke-linejoin="round"><path d="M527,226.7 L372.5,313"/><path d="M380,301.8 L372.5,313.2 L386.7,313.7"/><path d="M607,236.7 L623.2,303.4"/><path d="M613.8,292 L623.2,303.4 L626.7,289.5"/><path d="M691,232.9 L900.2,313.1"/><path d="M890.9,303.2 L900.2,313.1 L886,316"/></g>
<rect x="526.9" y="189" width="164.1" height="47.7" fill="#ffff00"/>
<text x="538.7" y="209.5" font-size="25.15" fill="#ff0000" font-weight="bold" text-anchor="start" textLength="143.0" lengthAdjust="spacingAndGlyphs"  style="">Sold over list</text>
<text x="573.5" y="229.5" font-size="15.50" fill="#ff0000" font-weight="bold" text-anchor="start" textLength="65.4" lengthAdjust="spacingAndGlyphs"  style="">(1 week)</text>
<rect x="1087.7" y="599.2" width="57" height="37.6" fill="#595959"/>
<text x="1093.5" y="627.3" font-size="26.89" fill="#ffff00" font-weight="bold" text-anchor="start" textLength="46.5" lengthAdjust="spacingAndGlyphs" stroke="#ffff00" stroke-width="0.6" style="">42%</text>
<g stroke="#ff0000" stroke-width="3" fill="none" stroke-linecap="round"><path d="M1150.8,700 L1126,640.5"/><path d="M1125.3,654.7 L1126.2,640.6 L1137.6,649.4"/><path d="M1146,738.4 L1101.5,723.5"/><path d="M1115.6,720.9 L1101.5,723.5 L1111.2,732.7"/></g>
<rect x="653" y="178" width="493" height="569.6" fill="#fcd6ba" fill-opacity="0.3"/>
<rect x="1152.5" y="610.4" width="41.3" height="135.5" fill="#ffff00"/>
<text transform="translate(1179.8,730) rotate(-90)" font-size="22" font-weight="bold" fill="#ff0000" stroke="#ff0000" stroke-width="0.5" textLength="107.5" lengthAdjust="spacingAndGlyphs">% Over List</text>
<text transform="translate(47,706.6) rotate(-90)" font-size="31" font-weight="bold" font-style="italic" fill="#ffffff" stroke="#ffffff" stroke-width="0.6" textLength="233" lengthAdjust="spacingAndGlyphs">Days on Market/</text>
<text transform="translate(45.2,462.7) rotate(-90)" font-size="28" font-weight="bold" fill="#00b050" stroke="#00b050" stroke-width="0.6" textLength="143.5" lengthAdjust="spacingAndGlyphs">$ Over List</text>
<text transform="translate(47.3,309.8) rotate(-90)" font-size="18.5" font-weight="bold" fill="#d9d4e0" textLength="52.5" lengthAdjust="spacingAndGlyphs">(1 wk)</text>
<g stroke="#00b050" stroke-width="2.5" fill="none" stroke-linecap="round"><path d="M50,422.9 L68.5,422.9"/><path d="M57,416.5 L68.5,422.9 L57,429.5"/></g>
<g stroke="#ffffff" stroke-width="2.5" fill="none" stroke-linecap="round"><path d="M48.6,514.6 L67.5,514.6"/><path d="M56,508 L67.5,514.6 L56,521.5"/></g>
<rect x="67.7" y="178" width="1" height="572" fill="#8a8fa0"/>
<text transform="translate(1183,592) rotate(-90)" font-size="27" font-weight="bold" font-style="italic" fill="#f2f2f2" stroke="#f2f2f2" stroke-width="0.5" textLength="245" lengthAdjust="spacingAndGlyphs">Sales over List Price</text>
<text transform="translate(96.5,770) rotate(-45)" font-size="16.5" fill="#000" stroke="#000" stroke-width="0.25" text-anchor="end">Vancouver</text>
<text transform="translate(145.5,770) rotate(-45)" font-size="16.5" fill="#000" stroke="#000" stroke-width="0.25" text-anchor="end">West Vancouver</text>
<text transform="translate(194.5,770) rotate(-45)" font-size="16.5" fill="#000" stroke="#000" stroke-width="0.25" text-anchor="end">Richmond</text>
<text transform="translate(243.5,770) rotate(-45)" font-size="16.5" fill="#000" stroke="#000" stroke-width="0.25" text-anchor="end">East Vancouver</text>
<text transform="translate(292.5,770) rotate(-45)" font-size="16.5" fill="#000" stroke="#000" stroke-width="0.25" text-anchor="end">North Vancouver</text>
<text transform="translate(341.5,770) rotate(-45)" font-size="16.5" fill="#000" stroke="#000" stroke-width="0.25" text-anchor="end">Burnaby</text>
<text transform="translate(390.5,770) rotate(-45)" font-size="16.5" fill="#000" stroke="#000" stroke-width="0.25" text-anchor="end">Coquitlam</text>
<text transform="translate(439.5,770) rotate(-45)" font-size="16.5" fill="#000" stroke="#000" stroke-width="0.25" text-anchor="end">P.Coq, P.Moody</text>
<text transform="translate(488.5,770) rotate(-45)" font-size="16.5" fill="#000" stroke="#000" stroke-width="0.25" text-anchor="end">NewWest-E.Burn</text>
<text transform="translate(537.5,770) rotate(-45)" font-size="16.5" fill="#000" stroke="#000" stroke-width="0.25" text-anchor="end">Delta-Ladner-Twsn</text>
<text transform="translate(586.5,770) rotate(-45)" font-size="16.5" fill="#000" stroke="#000" stroke-width="0.25" text-anchor="end">White Rock-S.Surrey</text>
<text transform="translate(635.5,770) rotate(-45)" font-size="16.5" fill="#000" stroke="#000" stroke-width="0.25" text-anchor="end">Van Total</text>
<text transform="translate(684.5,770) rotate(-45)" font-size="16.5" fill="#000" stroke="#000" stroke-width="0.25" text-anchor="end">North Delta</text>
<text transform="translate(733.5,770) rotate(-45)" font-size="16.5" fill="#000" stroke="#000" stroke-width="0.25" text-anchor="end">Maple Ridge</text>
<text transform="translate(782.5,770) rotate(-45)" font-size="16.5" fill="#000" stroke="#000" stroke-width="0.25" text-anchor="end">West Surrey</text>
<text transform="translate(831.5,770) rotate(-45)" font-size="16.5" fill="#000" stroke="#000" stroke-width="0.25" text-anchor="end">East Surrey</text>
<text transform="translate(880.5,770) rotate(-45)" font-size="16.5" fill="#000" stroke="#000" stroke-width="0.25" text-anchor="end">Langley,Clvrdl</text>
<text transform="translate(929.5,770) rotate(-45)" font-size="16.5" fill="#000" stroke="#000" stroke-width="0.25" text-anchor="end">Ft Langley-Wlnt Grv</text>
<text transform="translate(978.5,770) rotate(-45)" font-size="16.5" fill="#000" stroke="#000" stroke-width="0.25" text-anchor="end">Abbotsford</text>
<text transform="translate(1027.5,770) rotate(-45)" font-size="16.5" fill="#000" stroke="#000" stroke-width="0.25" text-anchor="end">Mission</text>
<text transform="translate(1076.5,770) rotate(-45)" font-size="16.5" fill="#000" stroke="#000" stroke-width="0.25" text-anchor="end">Chilliwack</text>
<text transform="translate(1125.5,770) rotate(-45)" font-size="16.5" fill="#000" stroke="#000" stroke-width="0.25" text-anchor="end">FV Total</text>
<text x="877.0" y="873.5" font-size="16.00" fill="#000" font-weight="normal" text-anchor="start" textLength="308.5" lengthAdjust="spacingAndGlyphs"  style="">All rights reserved and&#160; images copyrighted</text>
<text x="55.5" y="894.5" font-size="16.30" fill="#000" font-weight="normal" text-anchor="start" textLength="1057.0" lengthAdjust="spacingAndGlyphs"  style="">Data is from : FVREB, REBGV, CADREB Real Estate Board and they assume no responsibility for its accuracy. By: Vancouver Market Reports</text>
</svg></body></html>
